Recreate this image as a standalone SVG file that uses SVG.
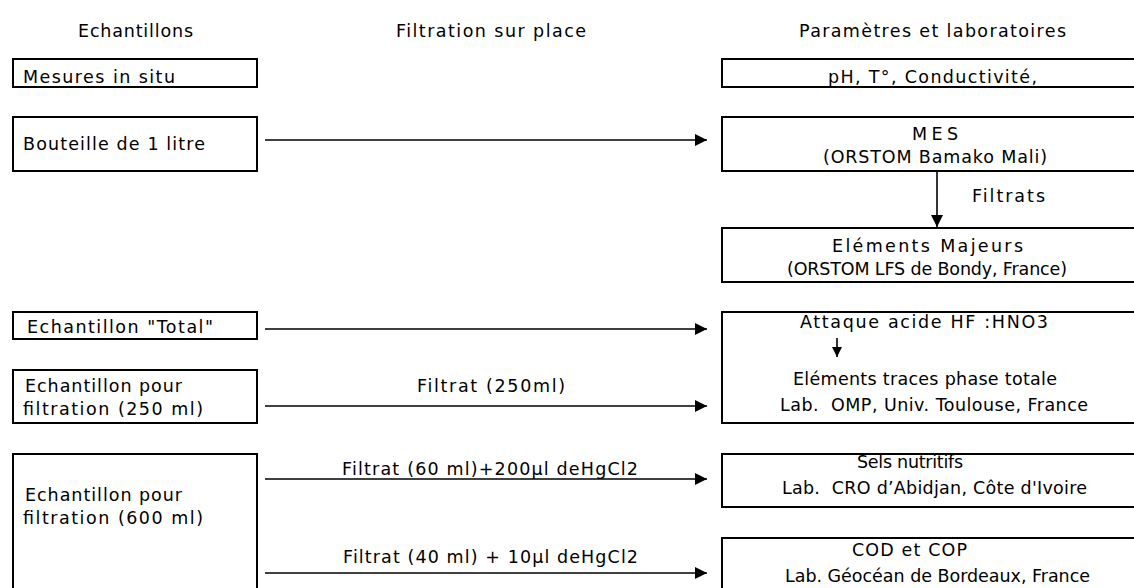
<svg xmlns="http://www.w3.org/2000/svg" width="1134" height="588" viewBox="0 0 1134 588">
<style>
  text { font-family: "DejaVu Sans", "Liberation Sans", sans-serif; font-size: 17.5px; fill: #000; white-space: pre; }
  .box { fill: #fff; stroke: #000; stroke-width: 2; }
  .conn { stroke: #000; stroke-width: 1.6; fill: none; }
</style>
<defs>
  <marker id="ah" markerUnits="userSpaceOnUse" markerWidth="13" markerHeight="12" refX="12" refY="6" orient="auto">
    <path d="M0,0 L12,6 L0,12 z" fill="#000"/>
  </marker>
  <marker id="ahs" markerUnits="userSpaceOnUse" markerWidth="11" markerHeight="10" refX="10" refY="5" orient="auto">
    <path d="M0,0 L10,5 L0,10 z" fill="#000"/>
  </marker>
</defs>
<rect width="1134" height="588" fill="#fff"/>

<g id="headers">
  <text x="78" y="37" textLength="115" lengthAdjust="spacing">Echantillons</text>
  <text x="396" y="37" textLength="190" lengthAdjust="spacing">Filtration sur place</text>
  <text x="799" y="37" textLength="267" lengthAdjust="spacing">Paramètres et laboratoires</text>
</g>

<g id="connectors">
  <line class="conn" x1="265" y1="140" x2="707" y2="140" marker-end="url(#ah)"/>
  <line class="conn" x1="937" y1="172" x2="937" y2="227" marker-end="url(#ah)"/>
  <line class="conn" x1="265" y1="329" x2="707" y2="329" marker-end="url(#ah)"/>
  <line class="conn" x1="265" y1="406" x2="707" y2="406" marker-end="url(#ah)"/>
  <line class="conn" x1="265" y1="479" x2="707" y2="479" marker-end="url(#ah)"/>
  <line class="conn" x1="265" y1="573" x2="707" y2="573" marker-end="url(#ah)"/>
  <text x="972" y="202" textLength="73" lengthAdjust="spacing">Filtrats</text>
  <text x="417" y="392" textLength="148" lengthAdjust="spacing">Filtrat (250ml)</text>
  <text x="342" y="475" textLength="296" lengthAdjust="spacing">Filtrat (60 ml)+200µl deHgCl2</text>
  <text x="343" y="563" textLength="295" lengthAdjust="spacing">Filtrat (40 ml) + 10µl deHgCl2</text>
</g>

<g id="mesures">
  <rect class="box" x="13" y="59" width="244" height="28"/>
  <text x="23" y="83" textLength="152" lengthAdjust="spacing">Mesures in situ</text>
</g>
<g id="bouteille">
  <rect class="box" x="13" y="117" width="244" height="54"/>
  <text x="23" y="150" textLength="182" lengthAdjust="spacing">Bouteille de 1 litre</text>
</g>
<g id="total">
  <rect class="box" x="13" y="312" width="244" height="27"/>
  <text x="27" y="333" textLength="186" lengthAdjust="spacing">Echantillon "Total"</text>
</g>
<g id="ech250">
  <rect class="box" x="13" y="370" width="244" height="53"/>
  <text x="25" y="392" textLength="157" lengthAdjust="spacing">Echantillon pour</text>
  <text x="23" y="415" textLength="180" lengthAdjust="spacing">filtration (250 ml)</text>
</g>
<g id="ech600">
  <rect class="box" x="13" y="454" width="244" height="200"/>
  <text x="25" y="501" textLength="157" lengthAdjust="spacing">Echantillon pour</text>
  <text x="23" y="524" textLength="180" lengthAdjust="spacing">filtration (600 ml)</text>
</g>

<g id="ph">
  <rect class="box" x="722" y="59" width="500" height="28"/>
  <text x="828" y="83" textLength="209" lengthAdjust="spacing">pH, T°, Conductivité,</text>
</g>
<g id="mes">
  <rect class="box" x="722" y="117" width="500" height="54"/>
  <text x="912" y="140" textLength="46" lengthAdjust="spacing">MES</text>
  <text x="823" y="163" textLength="224" lengthAdjust="spacing">(ORSTOM Bamako Mali)</text>
</g>
<g id="majeurs">
  <rect class="box" x="722" y="228" width="500" height="54"/>
  <text x="832" y="252" textLength="191" lengthAdjust="spacing">Eléments Majeurs</text>
  <text x="787" y="275" textLength="280" lengthAdjust="spacing">(ORSTOM LFS de Bondy, France)</text>
</g>
<g id="traces">
  <rect class="box" x="722" y="312" width="500" height="111"/>
  <text x="800" y="328" textLength="248" lengthAdjust="spacing">Attaque acide HF :HNO3</text>
  <line class="conn" x1="837" y1="338" x2="837" y2="357" marker-end="url(#ahs)"/>
  <text x="793" y="385" textLength="264" lengthAdjust="spacing">Eléments traces phase totale</text>
  <text x="780" y="411" textLength="308" lengthAdjust="spacing">Lab.  OMP, Univ. Toulouse, France</text>
</g>
<g id="sels">
  <rect class="box" x="722" y="454" width="500" height="53"/>
  <text x="857" y="468" textLength="106" lengthAdjust="spacing">Sels nutritifs</text>
  <text x="782" y="494" textLength="305" lengthAdjust="spacing">Lab.  CRO d’Abidjan, Côte d'Ivoire</text>
</g>
<g id="cod">
  <rect class="box" x="722" y="538" width="500" height="100"/>
  <text x="852" y="556" textLength="115" lengthAdjust="spacing">COD et COP</text>
  <text x="785" y="582" textLength="305" lengthAdjust="spacing">Lab. Géocéan de Bordeaux, France</text>
</g>
</svg>
